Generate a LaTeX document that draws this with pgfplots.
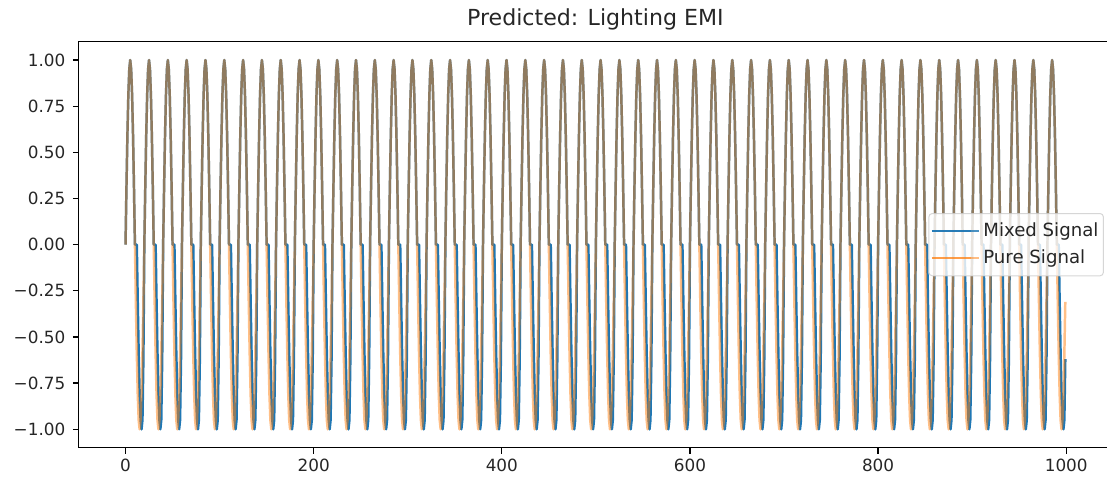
\documentclass[border=0pt]{standalone}
\usepackage{fontspec}
\setmainfont{DejaVu Sans}
\usepackage{pgfplots}
\usepackage{pgfplotstable}
\pgfplotsset{compat=1.18}
\definecolor{mplblue}{HTML}{1F77B4}
\definecolor{mplorange}{HTML}{FF7F0E}
\pgfplotstableread{
x p m
0 0 0
1 0.31 0.31
2 0.59 0.59
3 0.81 0.81
4 0.95 0.95
5 1 1
6 0.95 0.95
7 0.81 0.81
8 0.59 0.59
9 0.31 0.31
10 0 0
11 -0.31 0
12 -0.59 0
13 -0.81 -0.31
14 -0.95 -0.59
15 -1 -0.81
16 -0.95 -0.95
17 -0.81 -1
18 -0.59 -0.95
19 -0.31 -0.62
20 0 0
21 0.31 0.31
22 0.59 0.59
23 0.81 0.81
24 0.95 0.95
25 1 1
26 0.95 0.95
27 0.81 0.81
28 0.59 0.59
29 0.31 0.31
30 0 0
31 -0.31 0
32 -0.59 0
33 -0.81 -0.31
34 -0.95 -0.59
35 -1 -0.81
36 -0.95 -0.95
37 -0.81 -1
38 -0.59 -0.95
39 -0.31 -0.62
40 0 0
41 0.31 0.31
42 0.59 0.59
43 0.81 0.81
44 0.95 0.95
45 1 1
46 0.95 0.95
47 0.81 0.81
48 0.59 0.59
49 0.31 0.31
50 0 0
51 -0.31 0
52 -0.59 0
53 -0.81 -0.31
54 -0.95 -0.59
55 -1 -0.81
56 -0.95 -0.95
57 -0.81 -1
58 -0.59 -0.95
59 -0.31 -0.62
60 0 0
61 0.31 0.31
62 0.59 0.59
63 0.81 0.81
64 0.95 0.95
65 1 1
66 0.95 0.95
67 0.81 0.81
68 0.59 0.59
69 0.31 0.31
70 0 0
71 -0.31 0
72 -0.59 0
73 -0.81 -0.31
74 -0.95 -0.59
75 -1 -0.81
76 -0.95 -0.95
77 -0.81 -1
78 -0.59 -0.95
79 -0.31 -0.62
80 0 0
81 0.31 0.31
82 0.59 0.59
83 0.81 0.81
84 0.95 0.95
85 1 1
86 0.95 0.95
87 0.81 0.81
88 0.59 0.59
89 0.31 0.31
90 0 0
91 -0.31 0
92 -0.59 0
93 -0.81 -0.31
94 -0.95 -0.59
95 -1 -0.81
96 -0.95 -0.95
97 -0.81 -1
98 -0.59 -0.95
99 -0.31 -0.62
100 0 0
101 0.31 0.31
102 0.59 0.59
103 0.81 0.81
104 0.95 0.95
105 1 1
106 0.95 0.95
107 0.81 0.81
108 0.59 0.59
109 0.31 0.31
110 0 0
111 -0.31 0
112 -0.59 0
113 -0.81 -0.31
114 -0.95 -0.59
115 -1 -0.81
116 -0.95 -0.95
117 -0.81 -1
118 -0.59 -0.95
119 -0.31 -0.62
120 0 0
121 0.31 0.31
122 0.59 0.59
123 0.81 0.81
124 0.95 0.95
125 1 1
126 0.95 0.95
127 0.81 0.81
128 0.59 0.59
129 0.31 0.31
130 0 0
131 -0.31 0
132 -0.59 0
133 -0.81 -0.31
134 -0.95 -0.59
135 -1 -0.81
136 -0.95 -0.95
137 -0.81 -1
138 -0.59 -0.95
139 -0.31 -0.62
140 0 0
141 0.31 0.31
142 0.59 0.59
143 0.81 0.81
144 0.95 0.95
145 1 1
146 0.95 0.95
147 0.81 0.81
148 0.59 0.59
149 0.31 0.31
150 0 0
151 -0.31 0
152 -0.59 0
153 -0.81 -0.31
154 -0.95 -0.59
155 -1 -0.81
156 -0.95 -0.95
157 -0.81 -1
158 -0.59 -0.95
159 -0.31 -0.62
160 0 0
161 0.31 0.31
162 0.59 0.59
163 0.81 0.81
164 0.95 0.95
165 1 1
166 0.95 0.95
167 0.81 0.81
168 0.59 0.59
169 0.31 0.31
170 0 0
171 -0.31 0
172 -0.59 0
173 -0.81 -0.31
174 -0.95 -0.59
175 -1 -0.81
176 -0.95 -0.95
177 -0.81 -1
178 -0.59 -0.95
179 -0.31 -0.62
180 0 0
181 0.31 0.31
182 0.59 0.59
183 0.81 0.81
184 0.95 0.95
185 1 1
186 0.95 0.95
187 0.81 0.81
188 0.59 0.59
189 0.31 0.31
190 0 0
191 -0.31 0
192 -0.59 0
193 -0.81 -0.31
194 -0.95 -0.59
195 -1 -0.81
196 -0.95 -0.95
197 -0.81 -1
198 -0.59 -0.95
199 -0.31 -0.62
200 0 0
201 0.31 0.31
202 0.59 0.59
203 0.81 0.81
204 0.95 0.95
205 1 1
206 0.95 0.95
207 0.81 0.81
208 0.59 0.59
209 0.31 0.31
210 0 0
211 -0.31 0
212 -0.59 0
213 -0.81 -0.31
214 -0.95 -0.59
215 -1 -0.81
216 -0.95 -0.95
217 -0.81 -1
218 -0.59 -0.95
219 -0.31 -0.62
220 0 0
221 0.31 0.31
222 0.59 0.59
223 0.81 0.81
224 0.95 0.95
225 1 1
226 0.95 0.95
227 0.81 0.81
228 0.59 0.59
229 0.31 0.31
230 0 0
231 -0.31 0
232 -0.59 0
233 -0.81 -0.31
234 -0.95 -0.59
235 -1 -0.81
236 -0.95 -0.95
237 -0.81 -1
238 -0.59 -0.95
239 -0.31 -0.62
240 0 0
241 0.31 0.31
242 0.59 0.59
243 0.81 0.81
244 0.95 0.95
245 1 1
246 0.95 0.95
247 0.81 0.81
248 0.59 0.59
249 0.31 0.31
250 0 0
251 -0.31 0
252 -0.59 0
253 -0.81 -0.31
254 -0.95 -0.59
255 -1 -0.81
256 -0.95 -0.95
257 -0.81 -1
258 -0.59 -0.95
259 -0.31 -0.62
260 0 0
261 0.31 0.31
262 0.59 0.59
263 0.81 0.81
264 0.95 0.95
265 1 1
266 0.95 0.95
267 0.81 0.81
268 0.59 0.59
269 0.31 0.31
270 0 0
271 -0.31 0
272 -0.59 0
273 -0.81 -0.31
274 -0.95 -0.59
275 -1 -0.81
276 -0.95 -0.95
277 -0.81 -1
278 -0.59 -0.95
279 -0.31 -0.62
280 0 0
281 0.31 0.31
282 0.59 0.59
283 0.81 0.81
284 0.95 0.95
285 1 1
286 0.95 0.95
287 0.81 0.81
288 0.59 0.59
289 0.31 0.31
290 0 0
291 -0.31 0
292 -0.59 0
293 -0.81 -0.31
294 -0.95 -0.59
295 -1 -0.81
296 -0.95 -0.95
297 -0.81 -1
298 -0.59 -0.95
299 -0.31 -0.62
300 0 0
301 0.31 0.31
302 0.59 0.59
303 0.81 0.81
304 0.95 0.95
305 1 1
306 0.95 0.95
307 0.81 0.81
308 0.59 0.59
309 0.31 0.31
310 0 0
311 -0.31 0
312 -0.59 0
313 -0.81 -0.31
314 -0.95 -0.59
315 -1 -0.81
316 -0.95 -0.95
317 -0.81 -1
318 -0.59 -0.95
319 -0.31 -0.62
320 0 0
321 0.31 0.31
322 0.59 0.59
323 0.81 0.81
324 0.95 0.95
325 1 1
326 0.95 0.95
327 0.81 0.81
328 0.59 0.59
329 0.31 0.31
330 0 0
331 -0.31 0
332 -0.59 0
333 -0.81 -0.31
334 -0.95 -0.59
335 -1 -0.81
336 -0.95 -0.95
337 -0.81 -1
338 -0.59 -0.95
339 -0.31 -0.62
340 0 0
341 0.31 0.31
342 0.59 0.59
343 0.81 0.81
344 0.95 0.95
345 1 1
346 0.95 0.95
347 0.81 0.81
348 0.59 0.59
349 0.31 0.31
350 0 0
351 -0.31 0
352 -0.59 0
353 -0.81 -0.31
354 -0.95 -0.59
355 -1 -0.81
356 -0.95 -0.95
357 -0.81 -1
358 -0.59 -0.95
359 -0.31 -0.62
360 0 0
361 0.31 0.31
362 0.59 0.59
363 0.81 0.81
364 0.95 0.95
365 1 1
366 0.95 0.95
367 0.81 0.81
368 0.59 0.59
369 0.31 0.31
370 0 0
371 -0.31 0
372 -0.59 0
373 -0.81 -0.31
374 -0.95 -0.59
375 -1 -0.81
376 -0.95 -0.95
377 -0.81 -1
378 -0.59 -0.95
379 -0.31 -0.62
380 0 0
381 0.31 0.31
382 0.59 0.59
383 0.81 0.81
384 0.95 0.95
385 1 1
386 0.95 0.95
387 0.81 0.81
388 0.59 0.59
389 0.31 0.31
390 0 0
391 -0.31 0
392 -0.59 0
393 -0.81 -0.31
394 -0.95 -0.59
395 -1 -0.81
396 -0.95 -0.95
397 -0.81 -1
398 -0.59 -0.95
399 -0.31 -0.62
400 0 0
401 0.31 0.31
402 0.59 0.59
403 0.81 0.81
404 0.95 0.95
405 1 1
406 0.95 0.95
407 0.81 0.81
408 0.59 0.59
409 0.31 0.31
410 0 0
411 -0.31 0
412 -0.59 0
413 -0.81 -0.31
414 -0.95 -0.59
415 -1 -0.81
416 -0.95 -0.95
417 -0.81 -1
418 -0.59 -0.95
419 -0.31 -0.62
420 0 0
421 0.31 0.31
422 0.59 0.59
423 0.81 0.81
424 0.95 0.95
425 1 1
426 0.95 0.95
427 0.81 0.81
428 0.59 0.59
429 0.31 0.31
430 0 0
431 -0.31 0
432 -0.59 0
433 -0.81 -0.31
434 -0.95 -0.59
435 -1 -0.81
436 -0.95 -0.95
437 -0.81 -1
438 -0.59 -0.95
439 -0.31 -0.62
440 0 0
441 0.31 0.31
442 0.59 0.59
443 0.81 0.81
444 0.95 0.95
445 1 1
446 0.95 0.95
447 0.81 0.81
448 0.59 0.59
449 0.31 0.31
450 0 0
451 -0.31 0
452 -0.59 0
453 -0.81 -0.31
454 -0.95 -0.59
455 -1 -0.81
456 -0.95 -0.95
457 -0.81 -1
458 -0.59 -0.95
459 -0.31 -0.62
460 0 0
461 0.31 0.31
462 0.59 0.59
463 0.81 0.81
464 0.95 0.95
465 1 1
466 0.95 0.95
467 0.81 0.81
468 0.59 0.59
469 0.31 0.31
470 0 0
471 -0.31 0
472 -0.59 0
473 -0.81 -0.31
474 -0.95 -0.59
475 -1 -0.81
476 -0.95 -0.95
477 -0.81 -1
478 -0.59 -0.95
479 -0.31 -0.62
480 0 0
481 0.31 0.31
482 0.59 0.59
483 0.81 0.81
484 0.95 0.95
485 1 1
486 0.95 0.95
487 0.81 0.81
488 0.59 0.59
489 0.31 0.31
490 0 0
491 -0.31 0
492 -0.59 0
493 -0.81 -0.31
494 -0.95 -0.59
495 -1 -0.81
496 -0.95 -0.95
497 -0.81 -1
498 -0.59 -0.95
499 -0.31 -0.62
500 0 0
501 0.31 0.31
502 0.59 0.59
503 0.81 0.81
504 0.95 0.95
505 1 1
506 0.95 0.95
507 0.81 0.81
508 0.59 0.59
509 0.31 0.31
510 0 0
511 -0.31 0
512 -0.59 0
513 -0.81 -0.31
514 -0.95 -0.59
515 -1 -0.81
516 -0.95 -0.95
517 -0.81 -1
518 -0.59 -0.95
519 -0.31 -0.62
520 0 0
521 0.31 0.31
522 0.59 0.59
523 0.81 0.81
524 0.95 0.95
525 1 1
526 0.95 0.95
527 0.81 0.81
528 0.59 0.59
529 0.31 0.31
530 0 0
531 -0.31 0
532 -0.59 0
533 -0.81 -0.31
534 -0.95 -0.59
535 -1 -0.81
536 -0.95 -0.95
537 -0.81 -1
538 -0.59 -0.95
539 -0.31 -0.62
540 0 0
541 0.31 0.31
542 0.59 0.59
543 0.81 0.81
544 0.95 0.95
545 1 1
546 0.95 0.95
547 0.81 0.81
548 0.59 0.59
549 0.31 0.31
550 0 0
551 -0.31 0
552 -0.59 0
553 -0.81 -0.31
554 -0.95 -0.59
555 -1 -0.81
556 -0.95 -0.95
557 -0.81 -1
558 -0.59 -0.95
559 -0.31 -0.62
560 0 0
561 0.31 0.31
562 0.59 0.59
563 0.81 0.81
564 0.95 0.95
565 1 1
566 0.95 0.95
567 0.81 0.81
568 0.59 0.59
569 0.31 0.31
570 0 0
571 -0.31 0
572 -0.59 0
573 -0.81 -0.31
574 -0.95 -0.59
575 -1 -0.81
576 -0.95 -0.95
577 -0.81 -1
578 -0.59 -0.95
579 -0.31 -0.62
580 0 0
581 0.31 0.31
582 0.59 0.59
583 0.81 0.81
584 0.95 0.95
585 1 1
586 0.95 0.95
587 0.81 0.81
588 0.59 0.59
589 0.31 0.31
590 0 0
591 -0.31 0
592 -0.59 0
593 -0.81 -0.31
594 -0.95 -0.59
595 -1 -0.81
596 -0.95 -0.95
597 -0.81 -1
598 -0.59 -0.95
599 -0.31 -0.62
600 0 0
601 0.31 0.31
602 0.59 0.59
603 0.81 0.81
604 0.95 0.95
605 1 1
606 0.95 0.95
607 0.81 0.81
608 0.59 0.59
609 0.31 0.31
610 0 0
611 -0.31 0
612 -0.59 0
613 -0.81 -0.31
614 -0.95 -0.59
615 -1 -0.81
616 -0.95 -0.95
617 -0.81 -1
618 -0.59 -0.95
619 -0.31 -0.62
620 0 0
621 0.31 0.31
622 0.59 0.59
623 0.81 0.81
624 0.95 0.95
625 1 1
626 0.95 0.95
627 0.81 0.81
628 0.59 0.59
629 0.31 0.31
630 0 0
631 -0.31 0
632 -0.59 0
633 -0.81 -0.31
634 -0.95 -0.59
635 -1 -0.81
636 -0.95 -0.95
637 -0.81 -1
638 -0.59 -0.95
639 -0.31 -0.62
640 0 0
641 0.31 0.31
642 0.59 0.59
643 0.81 0.81
644 0.95 0.95
645 1 1
646 0.95 0.95
647 0.81 0.81
648 0.59 0.59
649 0.31 0.31
650 0 0
651 -0.31 0
652 -0.59 0
653 -0.81 -0.31
654 -0.95 -0.59
655 -1 -0.81
656 -0.95 -0.95
657 -0.81 -1
658 -0.59 -0.95
659 -0.31 -0.62
660 0 0
661 0.31 0.31
662 0.59 0.59
663 0.81 0.81
664 0.95 0.95
665 1 1
666 0.95 0.95
667 0.81 0.81
668 0.59 0.59
669 0.31 0.31
670 0 0
671 -0.31 0
672 -0.59 0
673 -0.81 -0.31
674 -0.95 -0.59
675 -1 -0.81
676 -0.95 -0.95
677 -0.81 -1
678 -0.59 -0.95
679 -0.31 -0.62
680 0 0
681 0.31 0.31
682 0.59 0.59
683 0.81 0.81
684 0.95 0.95
685 1 1
686 0.95 0.95
687 0.81 0.81
688 0.59 0.59
689 0.31 0.31
690 0 0
691 -0.31 0
692 -0.59 0
693 -0.81 -0.31
694 -0.95 -0.59
695 -1 -0.81
696 -0.95 -0.95
697 -0.81 -1
698 -0.59 -0.95
699 -0.31 -0.62
700 0 0
701 0.31 0.31
702 0.59 0.59
703 0.81 0.81
704 0.95 0.95
705 1 1
706 0.95 0.95
707 0.81 0.81
708 0.59 0.59
709 0.31 0.31
710 0 0
711 -0.31 0
712 -0.59 0
713 -0.81 -0.31
714 -0.95 -0.59
715 -1 -0.81
716 -0.95 -0.95
717 -0.81 -1
718 -0.59 -0.95
719 -0.31 -0.62
720 0 0
721 0.31 0.31
722 0.59 0.59
723 0.81 0.81
724 0.95 0.95
725 1 1
726 0.95 0.95
727 0.81 0.81
728 0.59 0.59
729 0.31 0.31
730 0 0
731 -0.31 0
732 -0.59 0
733 -0.81 -0.31
734 -0.95 -0.59
735 -1 -0.81
736 -0.95 -0.95
737 -0.81 -1
738 -0.59 -0.95
739 -0.31 -0.62
740 0 0
741 0.31 0.31
742 0.59 0.59
743 0.81 0.81
744 0.95 0.95
745 1 1
746 0.95 0.95
747 0.81 0.81
748 0.59 0.59
749 0.31 0.31
750 0 0
751 -0.31 0
752 -0.59 0
753 -0.81 -0.31
754 -0.95 -0.59
755 -1 -0.81
756 -0.95 -0.95
757 -0.81 -1
758 -0.59 -0.95
759 -0.31 -0.62
760 0 0
761 0.31 0.31
762 0.59 0.59
763 0.81 0.81
764 0.95 0.95
765 1 1
766 0.95 0.95
767 0.81 0.81
768 0.59 0.59
769 0.31 0.31
770 0 0
771 -0.31 0
772 -0.59 0
773 -0.81 -0.31
774 -0.95 -0.59
775 -1 -0.81
776 -0.95 -0.95
777 -0.81 -1
778 -0.59 -0.95
779 -0.31 -0.62
780 0 0
781 0.31 0.31
782 0.59 0.59
783 0.81 0.81
784 0.95 0.95
785 1 1
786 0.95 0.95
787 0.81 0.81
788 0.59 0.59
789 0.31 0.31
790 0 0
791 -0.31 0
792 -0.59 0
793 -0.81 -0.31
794 -0.95 -0.59
795 -1 -0.81
796 -0.95 -0.95
797 -0.81 -1
798 -0.59 -0.95
799 -0.31 -0.62
800 0 0
801 0.31 0.31
802 0.59 0.59
803 0.81 0.81
804 0.95 0.95
805 1 1
806 0.95 0.95
807 0.81 0.81
808 0.59 0.59
809 0.31 0.31
810 0 0
811 -0.31 0
812 -0.59 0
813 -0.81 -0.31
814 -0.95 -0.59
815 -1 -0.81
816 -0.95 -0.95
817 -0.81 -1
818 -0.59 -0.95
819 -0.31 -0.62
820 0 0
821 0.31 0.31
822 0.59 0.59
823 0.81 0.81
824 0.95 0.95
825 1 1
826 0.95 0.95
827 0.81 0.81
828 0.59 0.59
829 0.31 0.31
830 0 0
831 -0.31 0
832 -0.59 0
833 -0.81 -0.31
834 -0.95 -0.59
835 -1 -0.81
836 -0.95 -0.95
837 -0.81 -1
838 -0.59 -0.95
839 -0.31 -0.62
840 0 0
841 0.31 0.31
842 0.59 0.59
843 0.81 0.81
844 0.95 0.95
845 1 1
846 0.95 0.95
847 0.81 0.81
848 0.59 0.59
849 0.31 0.31
850 0 0
851 -0.31 0
852 -0.59 0
853 -0.81 -0.31
854 -0.95 -0.59
855 -1 -0.81
856 -0.95 -0.95
857 -0.81 -1
858 -0.59 -0.95
859 -0.31 -0.62
860 0 0
861 0.31 0.31
862 0.59 0.59
863 0.81 0.81
864 0.95 0.95
865 1 1
866 0.95 0.95
867 0.81 0.81
868 0.59 0.59
869 0.31 0.31
870 0 0
871 -0.31 0
872 -0.59 0
873 -0.81 -0.31
874 -0.95 -0.59
875 -1 -0.81
876 -0.95 -0.95
877 -0.81 -1
878 -0.59 -0.95
879 -0.31 -0.62
880 0 0
881 0.31 0.31
882 0.59 0.59
883 0.81 0.81
884 0.95 0.95
885 1 1
886 0.95 0.95
887 0.81 0.81
888 0.59 0.59
889 0.31 0.31
890 0 0
891 -0.31 0
892 -0.59 0
893 -0.81 -0.31
894 -0.95 -0.59
895 -1 -0.81
896 -0.95 -0.95
897 -0.81 -1
898 -0.59 -0.95
899 -0.31 -0.62
900 0 0
901 0.31 0.31
902 0.59 0.59
903 0.81 0.81
904 0.95 0.95
905 1 1
906 0.95 0.95
907 0.81 0.81
908 0.59 0.59
909 0.31 0.31
910 0 0
911 -0.31 0
912 -0.59 0
913 -0.81 -0.31
914 -0.95 -0.59
915 -1 -0.81
916 -0.95 -0.95
917 -0.81 -1
918 -0.59 -0.95
919 -0.31 -0.62
920 0 0
921 0.31 0.31
922 0.59 0.59
923 0.81 0.81
924 0.95 0.95
925 1 1
926 0.95 0.95
927 0.81 0.81
928 0.59 0.59
929 0.31 0.31
930 0 0
931 -0.31 0
932 -0.59 0
933 -0.81 -0.31
934 -0.95 -0.59
935 -1 -0.81
936 -0.95 -0.95
937 -0.81 -1
938 -0.59 -0.95
939 -0.31 -0.62
940 0 0
941 0.31 0.31
942 0.59 0.59
943 0.81 0.81
944 0.95 0.95
945 1 1
946 0.95 0.95
947 0.81 0.81
948 0.59 0.59
949 0.31 0.31
950 0 0
951 -0.31 0
952 -0.59 0
953 -0.81 -0.31
954 -0.95 -0.59
955 -1 -0.81
956 -0.95 -0.95
957 -0.81 -1
958 -0.59 -0.95
959 -0.31 -0.62
960 0 0
961 0.31 0.31
962 0.59 0.59
963 0.81 0.81
964 0.95 0.95
965 1 1
966 0.95 0.95
967 0.81 0.81
968 0.59 0.59
969 0.31 0.31
970 0 0
971 -0.31 0
972 -0.59 0
973 -0.81 -0.31
974 -0.95 -0.59
975 -1 -0.81
976 -0.95 -0.95
977 -0.81 -1
978 -0.59 -0.95
979 -0.31 -0.62
980 0 0
981 0.31 0.31
982 0.59 0.59
983 0.81 0.81
984 0.95 0.95
985 1 1
986 0.95 0.95
987 0.81 0.81
988 0.59 0.59
989 0.31 0.31
990 0 0
991 -0.31 0
992 -0.59 0
993 -0.81 -0.31
994 -0.95 -0.59
995 -1 -0.81
996 -0.95 -0.95
997 -0.81 -1
998 -0.59 -0.95
999 -0.31 -0.62
}\sig
\begin{document}
\begin{tikzpicture}
\begin{axis}[
  scale only axis,
  width=626.6pt, height=246.2pt,
  xmin=-49.95, xmax=1048.95, ymin=-1.1, ymax=1.1,
  axis line style={line width=0.8pt},
  tick align=outside, major tick length=3.5pt,
  tick style={black, line width=0.8pt},
  xtick pos=bottom, ytick pos=left,
  xtick={0,200,400,600,800,1000},
  xticklabels={0,200,400,600,800,1000},
  ytick={-1,-0.75,-0.5,-0.25,0,0.25,0.5,0.75,1},
  yticklabels={−1.00,−0.75,−0.50,−0.25,0.00,0.25,0.50,0.75,1.00},
  ticklabel style={font=\fontsize{10.2}{12}\selectfont, text=black!85},
  yticklabel style={xshift=-1pt},
  title={Predicted: Lighting EMI},
  title style={font=\fontsize{13.4}{16}\selectfont, text=black!85, at={(0.5,1)}, anchor=base, yshift=3.5pt},
  legend style={
    at={(1,0.5)}, anchor=east, xshift=-5.1pt,
    draw=black!20, line width=0.6pt, rounded corners=2pt,
    fill=white, fill opacity=0.8, draw opacity=0.8, text opacity=1,
    font=\fontsize{11}{13}\selectfont,
    inner xsep=1pt, inner ysep=3.5pt, row sep=2pt,
    nodes={inner sep=2pt, text depth=0.2em, text=black!85},
  },
  legend cell align=left,
  legend image code/.code={\draw[#1, line width=1.5pt] (0pt,0pt) -- (24pt,0pt); \path (0pt,0pt) -- (28.5pt,0pt);},
]
\coordinate (sw) at (rel axis cs:0,0);
\addplot[mplblue, line width=1.5pt, line join=round] table[x=x,y=m]{\sig};
\addlegendentry{Mixed Signal}
\addplot[mplorange, opacity=0.5, line width=1.5pt, line join=round] table[x=x,y=p]{\sig};
\addlegendentry{Pure Signal}
\end{axis}
\pgfresetboundingbox
\path[use as bounding box] ([shift={(-47.6pt,-20.7pt)}]sw) rectangle ++(671pt,292.1pt);
\end{tikzpicture}
\end{document}
